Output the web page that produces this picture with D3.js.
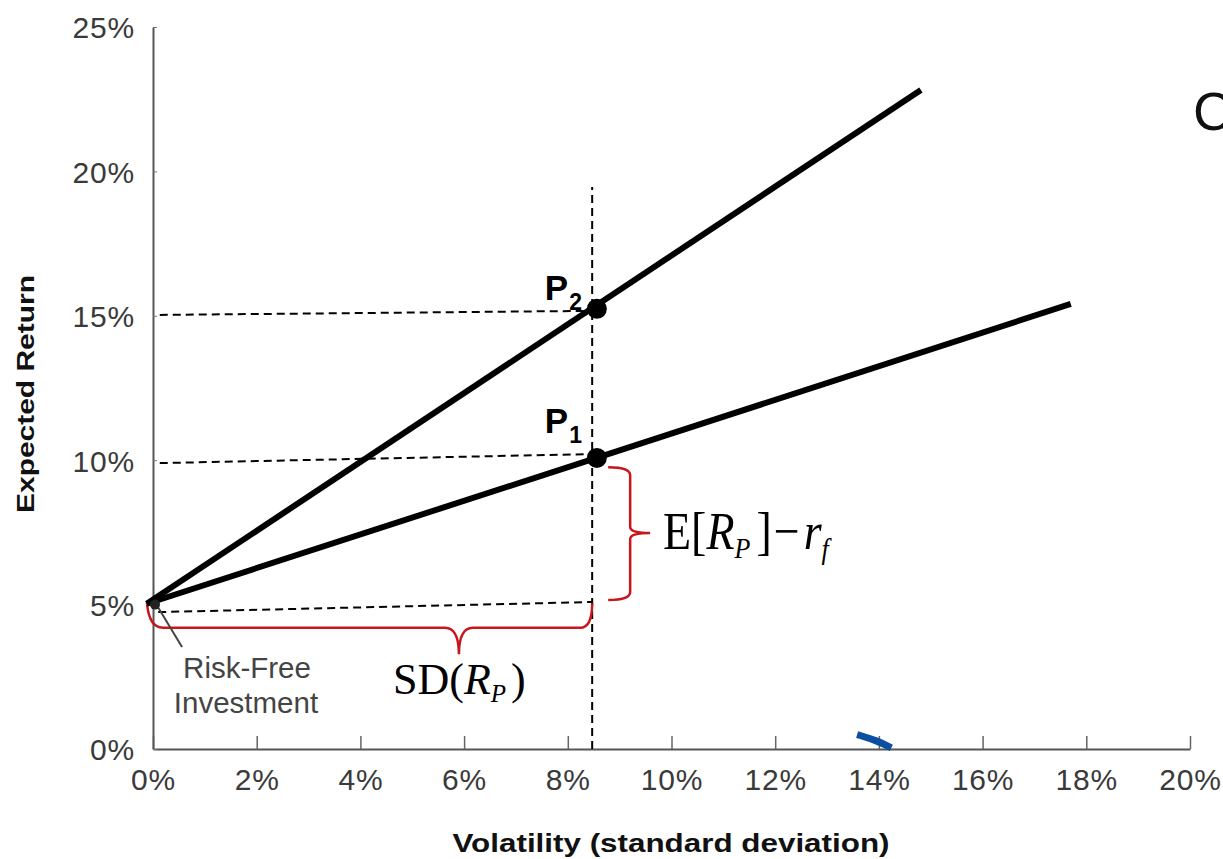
<!DOCTYPE html>
<html>
<head>
<meta charset="utf-8">
<script src="https://cdn.jsdelivr.net/npm/d3@7"></script>
<style>
  html, body { margin: 0; padding: 0; background: #fff; }
  svg { display: block; }
</style>
</head>
<body>
<script>
// ---------------- DATA ----------------
const xTicks = [0, 2, 4, 6, 8, 10, 12, 14, 16, 18, 20];          // volatility (%)
const yTicks = [0, 5, 10, 15, 20, 25];                            // expected return (%)
const riskFree = { sd: 0, ret: 5 };
const lineP2 = [{ sd: -0.12, ret: 5.03 }, { sd: 14.81, ret: 22.82 }];
const lineP1 = [{ sd: -0.12, ret: 5.03 }, { sd: 17.70, ret: 15.41 }];
const portfolios = [
  { name: "P", sub: "1", sd: 8.56, ret: 10.08 },
  { name: "P", sub: "2", sd: 8.56, ret: 15.24 }
];
const guideVertical = [{ sd: 8.47, ret: 0 }, { sd: 8.47, ret: 19.46 }];
const guideP2 = [{ sd: 0.13, ret: 15.03 }, { sd: 8.39, ret: 15.17 }];
const guideP1 = [{ sd: 0.13, ret: 9.90 }, { sd: 8.39, ret: 10.21 }];
const guideRF = [{ sd: 0.10, ret: 4.74 }, { sd: 8.47, ret: 5.09 }];
const blueFragment = [{ sd: 13.58, ret: 0.50 }, { sd: 13.95, ret: 0.30 }, { sd: 14.24, ret: 0.04 }];
const riskFreePointer = [{ sd: 0.10, ret: 4.90 }, { sd: 0.56, ret: 3.53 }];

// ---------------- SETUP ----------------
const W = 1223, H = 859;
const svg = d3.select("body").append("svg").attr("width", W).attr("height", H);

const x = d3.scaleLinear().domain([0, 20]).range([153, 1190]);
const y = d3.scaleLinear().domain([0, 25]).range([749, 27]);

const sans = "'Liberation Sans', Arial, Helvetica, sans-serif";
const serif = "'Liberation Serif', 'Times New Roman', serif";
const line = d3.line().x(d => x(d.sd)).y(d => y(d.ret));

// ---------------- AXES ----------------
const xAxis = svg.append("g").attr("transform", `translate(0,${y(0)})`)
  .call(d3.axisBottom(x).tickValues(xTicks).tickSize(-13).tickSizeOuter(0).tickFormat(d => d + "%"));
xAxis.select(".domain").attr("stroke", "#555").attr("stroke-width", 2);
xAxis.selectAll(".tick line").attr("stroke", "#666").attr("stroke-width", 1.5);
xAxis.selectAll(".tick text").attr("y", 41).attr("dy", 0)
  .attr("font-family", sans).attr("font-size", 30).attr("letter-spacing", 0.8).attr("fill", "#3a3a3a");

const yAxis = svg.append("g").attr("transform", `translate(${x(0)},0)`)
  .call(d3.axisLeft(y).tickValues(yTicks).tickSize(-4).tickSizeOuter(0).tickPadding(18).tickFormat(d => d + "%"));
yAxis.select(".domain").attr("stroke", "#555").attr("stroke-width", 2);
yAxis.selectAll(".tick line").attr("stroke", "#777").attr("stroke-width", 1);
yAxis.selectAll(".tick text").attr("dy", "0.36em")
  .attr("font-family", sans).attr("font-size", 30).attr("letter-spacing", 0.8).attr("fill", "#3a3a3a");

// axis titles
svg.append("text")
  .attr("x", 671).attr("y", 852).attr("text-anchor", "middle")
  .attr("font-family", sans).attr("font-weight", "bold").attr("font-size", 26).attr("fill", "#111")
  .attr("textLength", 437).attr("lengthAdjust", "spacingAndGlyphs")
  .text("Volatility (standard deviation)");

svg.append("text")
  .attr("transform", "translate(34,394) rotate(-90)").attr("text-anchor", "middle")
  .attr("font-family", sans).attr("font-weight", "bold").attr("font-size", 24).attr("fill", "#111")
  .attr("textLength", 238).attr("lengthAdjust", "spacingAndGlyphs")
  .text("Expected Return");

// ---------------- GUIDES ----------------
[guideVertical, guideP2, guideP1, guideRF].forEach(g => {
  svg.append("path").attr("d", line(g)).attr("fill", "none")
    .attr("stroke", "#000").attr("stroke-width", 2).attr("stroke-dasharray", "8,5");
});

// ---------------- RED BRACES ----------------
const red = "#c8161d";
{
  const xl = x(0) - 6, xr = x(8.47), xm = x(5.9);
  const yt = y(5.05), yb = y(4.2), ytip = y(3.28);
  const p = `M${xl},${yt} Q${xl + 2},${yb} ${xl + 16},${yb} L${xm - 14},${yb} Q${xm},${yb} ${xm},${ytip} ` +
            `Q${xm},${yb} ${xm + 14},${yb} L${xr - 12},${yb} Q${xr},${yb} ${xr},${yt}`;
  svg.append("path").attr("d", p).attr("fill", "none").attr("stroke", red).attr("stroke-width", 2.5);
}
{
  const x0 = x(8.47) + 16, xs = x0 + 22, tip = xs + 20;
  const yt = y(9.76), yb = y(5.16), ym = (yt + yb) / 2 - 0.5;
  const p = `M${x0},${yt} Q${xs},${yt} ${xs},${yt + 8} L${xs},${ym - 6} Q${xs},${ym} ${tip},${ym} ` +
            `Q${xs},${ym} ${xs},${ym + 6} L${xs},${yb - 8} Q${xs},${yb} ${x0},${yb}`;
  svg.append("path").attr("d", p).attr("fill", "none").attr("stroke", red).attr("stroke-width", 2.5);
}

// ---------------- LINES ----------------
[lineP2, lineP1].forEach(l => {
  svg.append("path").attr("d", line(l)).attr("fill", "none")
    .attr("stroke", "#000").attr("stroke-width", 6);
});

svg.append("path").attr("d", d3.line().curve(d3.curveBasis).x(d => x(d.sd)).y(d => y(d.ret))(blueFragment))
  .attr("fill", "none").attr("stroke", "#0b4ea2").attr("stroke-width", 7);

svg.selectAll("circle.port").data(portfolios).join("circle").attr("class", "port")
  .attr("cx", d => x(d.sd)).attr("cy", d => y(d.ret)).attr("r", 10).attr("fill", "#000");

const labelOffset = { "1": [-52, -25], "2": [-52, -9] };
portfolios.forEach(d => {
  const [dx, dy] = labelOffset[d.sub];
  const t = svg.append("text").attr("x", x(d.sd) + dx).attr("y", y(d.ret) + dy)
    .attr("font-family", sans).attr("font-weight", "bold").attr("font-size", 35).attr("fill", "#000");
  t.append("tspan").text(d.name);
  t.append("tspan").attr("font-size", 23).attr("dx", 1).attr("dy", 10).text(d.sub);
});

svg.append("path").attr("d", line(riskFreePointer)).attr("stroke", "#444").attr("stroke-width", 2).attr("fill", "none");
svg.append("circle").attr("cx", x(riskFree.sd) + 2).attr("cy", y(riskFree.ret)).attr("r", 5).attr("fill", "#222");

svg.append("text").attr("x", 247).attr("y", 678).attr("text-anchor", "middle")
  .attr("font-family", sans).attr("font-size", 29.5).attr("fill", "#444").text("Risk-Free");
svg.append("text").attr("x", 246).attr("y", 713).attr("text-anchor", "middle")
  .attr("font-family", sans).attr("font-size", 29.5).attr("fill", "#444").text("Investment");

// SD(R_P)
{
  const t = svg.append("text").attr("x", 393).attr("y", 694)
    .attr("font-family", serif).attr("font-size", 44).attr("fill", "#000");
  t.append("tspan").text("SD(");
  t.append("tspan").attr("font-style", "italic").text("R");
  t.append("tspan").attr("font-style", "italic").attr("font-size", 25).attr("dy", 8).text("P");
  t.append("tspan").attr("dy", -8).attr("dx", 5).text(")");
}

// E[R_P] - r_f  (slightly stretched vertically as in the reference)
{
  const g = svg.append("g").attr("transform", "translate(663,549) scale(1,1.15)");
  const t = g.append("text").attr("x", 0).attr("y", 0)
    .attr("font-family", serif).attr("font-size", 46).attr("fill", "#000");
  t.append("tspan").text("E[");
  t.append("tspan").attr("font-style", "italic").text("R");
  t.append("tspan").attr("font-style", "italic").attr("font-size", 26).attr("dy", 8).text("P");
  t.append("tspan").attr("dy", -8).attr("dx", 6).text("]");
  t.append("tspan").attr("dx", 2).text("\u2212");
  t.append("tspan").attr("dx", 4).attr("font-style", "italic").text("r");
  t.append("tspan").attr("font-style", "italic").attr("font-size", 26).attr("dy", 9).text("f");
}

// partial letter at top right (cut by the frame as in the reference)
svg.append("text").attr("x", 1193).attr("y", 130)
  .attr("font-family", sans).attr("font-size", 54).attr("fill", "#111").text("C");
</script>
</body>
</html>
